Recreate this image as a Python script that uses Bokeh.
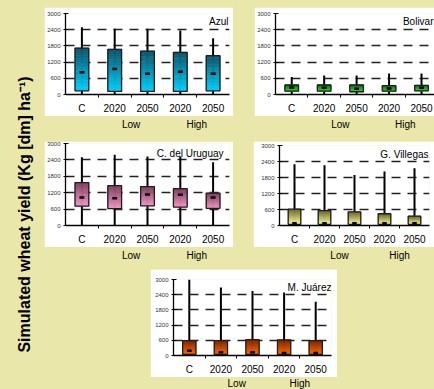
import numpy as np
from bokeh.plotting import figure
from bokeh.models import Range1d, FixedTicker, Spacer, Label
from bokeh.layouts import row, column
from bokeh.embed import file_html
from bokeh.resources import INLINE
from bokeh.core.properties import value

# ---------------- data ----------------
categories = ["C", "2020", "2050", "2020", "2050"]
scenarios = ["", "Low", "Low", "High", "High"]
y_ticks = [0, 600, 1200, 1800, 2400, 3000]
y_label = "Simulated wheat yield (Kg [dm] ha\u207b\u00b9)"

azul_min = [20, 20, 20, 20, 20]
azul_q1 = [136, 113, 113, 113, 136]
azul_med = [826, 940, 770, 838, 770]
azul_q3 = [1720, 1675, 1608, 1562, 1438]
azul_max = [2490, 2434, 2434, 2366, 2083]

bolivar_min = [20, 20, 20, 20, 20]
bolivar_q1 = [125, 125, 102, 125, 136]
bolivar_med = [260, 250, 215, 226, 250]
bolivar_q3 = [351, 351, 351, 328, 340]
bolivar_max = [645, 700, 700, 780, 780]

uruguay_min = [0, 0, 0, 0, 0]
uruguay_q1 = [706, 617, 718, 673, 628]
uruguay_med = [1020, 998, 1133, 1121, 1020]
uruguay_q3 = [1570, 1458, 1424, 1346, 1188]
uruguay_max = [2500, 2590, 2523, 2523, 2310]

villegas_min = [0, 0, 0, 0, 0]
villegas_q1 = [45, 45, 45, 45, 45]
villegas_med = [85, 85, 85, 85, 85]
villegas_q3 = [611, 555, 510, 440, 350]
villegas_max = [2300, 2264, 1890, 2026, 2150]

juarez_min = [0, 0, 0, 0, 0]
juarez_q1 = [40, 40, 40, 40, 40]
juarez_med = [192, 132, 132, 96, 96]
juarez_q3 = [588, 588, 624, 612, 588]
juarez_max = [3000, 2688, 2544, 2484, 2124]

BG = "#EAE7AB"
FONT = "Liberation Sans"


def hex2rgb(h):
    return np.array([int(h[i:i + 2], 16) for i in (1, 3, 5)], float)


def grad_colors(top, bot, n):
    t = (np.arange(n) + 0.5) / n
    c = hex2rgb(bot)[None, :] * (1 - t[:, None]) + hex2rgb(top)[None, :] * t[:, None]
    return ["#%02x%02x%02x" % tuple(int(round(v)) for v in cc) for cc in c]


def panel(name, mn, q1, med, q3, mx, top_c, bot_c, w, h, bl, br, bt, bb,
          xend, strip_h, tx_off, ty_off):
    xr = Range1d(0, xend)
    p = figure(width=w, height=h, x_range=xr, y_range=Range1d(0, 3000),
               output_backend="svg", toolbar_location=None,
               min_border_left=bl, min_border_right=br,
               min_border_top=bt, min_border_bottom=bb,
               background_fill_color="white", border_fill_color="white")
    p.outline_line_color = None
    xs = np.arange(len(categories)) + 0.5
    bw = 0.42

    # whiskers
    p.segment(x0=xs, y0=mn, x1=xs, y1=mx, line_color="black", line_width=2)

    # gradient boxes
    n = 24
    cols = grad_colors(top_c, bot_c, n)
    L, R, B, T, C = [], [], [], [], []
    for i in range(len(xs)):
        e = np.linspace(q1[i], q3[i], n + 1)
        L += [xs[i] - bw / 2] * n
        R += [xs[i] + bw / 2] * n
        B += list(e[:-1])
        T += list(e[1:])
        C += cols
    p.quad(left=L, right=R, bottom=B, top=T, fill_color=C, line_color=C, line_width=0.6)
    p.quad(left=xs - bw / 2, right=xs + bw / 2, bottom=q1, top=q3,
           fill_color=None, line_color="#1e1e1e", line_width=1.3)
    # medians
    p.rect(x=xs, y=med, width=0.15, height=2.5, height_units="screen",
           fill_color="black", line_color=None)

    # axes
    xa = p.xaxis[0]
    xa.ticker = FixedTicker(ticks=list(xs), minor_ticks=list(np.arange(1, len(xs))))
    xa.major_label_overrides = {float(x): c for x, c in zip(xs, categories)}
    xa.major_tick_line_color = None
    xa.minor_tick_line_color = "black"
    xa.minor_tick_in = 0
    xa.minor_tick_out = 3
    xa.axis_line_color = "black"
    xa.axis_line_width = 1.3
    xa.major_label_text_font = FONT
    xa.major_label_text_font_size = "10px"
    xa.major_label_text_color = "black"
    xa.major_label_standoff = 2

    ya = p.yaxis[0]
    ya.ticker = FixedTicker(ticks=y_ticks)
    ya.minor_tick_line_color = None
    ya.major_tick_in = 3
    ya.major_tick_out = 2
    ya.major_tick_line_color = "black"
    ya.axis_line_color = "black"
    ya.axis_line_width = 1.3
    ya.major_label_text_font = FONT
    ya.major_label_text_font_size = "6px"
    ya.major_label_text_color = "#333333"
    ya.major_label_standoff = 3

    p.xgrid.grid_line_color = None
    p.ygrid.ticker = FixedTicker(ticks=y_ticks)
    p.ygrid.grid_line_color = "#222222"
    p.ygrid.grid_line_width = 1.4
    p.ygrid.grid_line_dash = "9 7"

    p.add_layout(Label(x=xend, y=3000, x_offset=tx_off, y_offset=ty_off, text=name,
                       text_align="right", text_baseline="top",
                       text_font=FONT, text_font_size="10px", text_color="black"))

    # Low / High strip
    s = figure(width=w, height=strip_h, x_range=xr, y_range=Range1d(0, 1),
               output_backend="svg", toolbar_location=None,
               x_axis_type=None, y_axis_type=None,
               min_border_left=bl, min_border_right=br,
               min_border_top=0, min_border_bottom=0,
               background_fill_color=BG, border_fill_color=BG)
    s.outline_line_color = None
    s.grid.visible = False
    groups = [g for g in dict.fromkeys(scenarios) if g]
    gx = [float(np.mean([xs[i] for i, g in enumerate(scenarios) if g == gg])) for gg in groups]
    s.text(x=gx, y=[0.5] * len(gx), text=groups, text_align="center",
           text_baseline="middle", text_font=value(FONT), text_font_size="10px",
           text_color="black")
    return column(p, s, spacing=0)


p1 = panel("Azul", azul_min, azul_q1, azul_med, azul_q3, azul_max,
           "#0d5468", "#00d2ff", 189, 109, 20, 4, 6, 14, 5, 15, -1, -2)
p2 = panel("Bolivar", bolivar_min, bolivar_q1, bolivar_med, bolivar_q3, bolivar_max,
           "#147a14", "#38dc38", 180, 109, 21, 0, 6, 14, 4.9, 15, -1, -2)
p3 = panel("C. del Uruguay", uruguay_min, uruguay_q1, uruguay_med, uruguay_q3, uruguay_max,
           "#7e3e5e", "#f596c6", 189, 106, 20, 4, 2, 14, 5, 15, -6, -4)
p4 = panel("G. Villegas", villegas_min, villegas_q1, villegas_med, villegas_q3, villegas_max,
           "#6e6a30", "#ffff96", 181, 106, 26, 5, 4, 14, 5, 15, -1, -3)
p5 = panel("M. Ju\u00e1rez", juarez_min, juarez_q1, juarez_med, juarez_q3, juarez_max,
           "#842400", "#ff6c00", 187, 108, 23, 6, 10, 14, 5, 12, 0, -2)

yl = figure(width=44, height=389, x_range=Range1d(0, 44), y_range=Range1d(0, 389),
            output_backend="svg", toolbar_location=None,
            x_axis_type=None, y_axis_type=None, min_border=0,
            background_fill_color=BG, border_fill_color=BG)
yl.outline_line_color = None
yl.grid.visible = False
yl.text(x=[24], y=[175], text=[y_label], angle=np.pi / 2, text_align="center",
        text_baseline="middle", text_font=value(FONT), text_font_style="bold",
        text_font_size="16px", text_color="black")

right = column(
    Spacer(width=10, height=7),
    row(p1, Spacer(width=21, height=10), p2, spacing=0),
    Spacer(width=10, height=10),
    row(p3, Spacer(width=20, height=10), p4, spacing=0),
    Spacer(width=10, height=7),
    row(Spacer(width=106, height=10), p5, spacing=0),
    spacing=0,
)
layout = row(yl, right, spacing=0)

html = file_html(layout, INLINE)
html = html.replace(
    "</head>",
    "<style>html, body { background: %s; margin: 0; padding: 0; overflow: hidden; }</style></head>" % BG,
    1,
)
open("out.html", "w").write(html)
